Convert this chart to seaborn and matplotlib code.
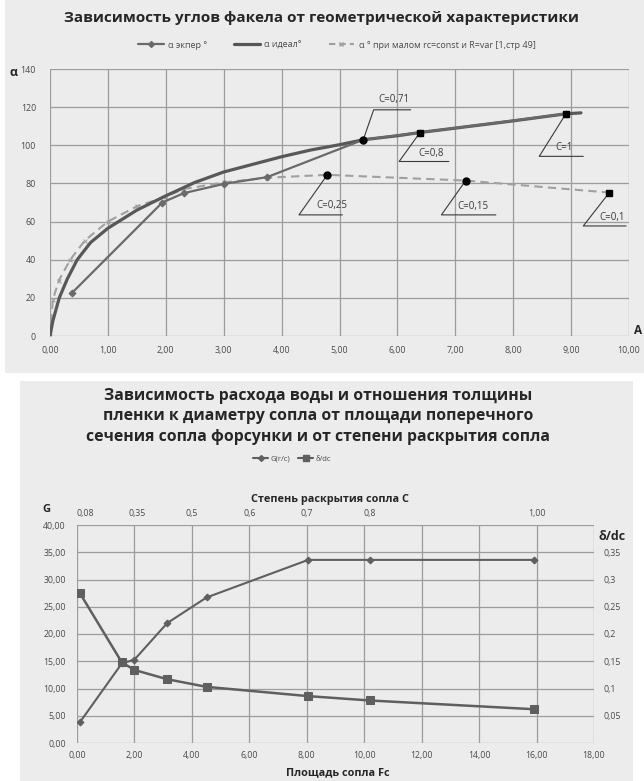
import matplotlib
matplotlib.use("Agg")
import matplotlib.pyplot as plt
import seaborn as sns
from matplotlib.patches import Rectangle
from matplotlib.lines import Line2D
from matplotlib.ticker import FuncFormatter, FixedLocator

# ---------------- data: top chart ----------------
exp_x = [0.38, 1.94, 2.31, 3.01, 3.75, 5.41, 6.39, 8.91]
exp_a = [22.6, 70.0, 74.9, 79.8, 83.3, 102.9, 106.7, 116.5]

ideal_x = [0, 0.05, 0.16, 0.30, 0.47, 0.70, 1.0, 1.5, 2.0, 2.5, 3.0, 3.5, 4.0,
           4.5, 5.0, 5.41, 6.0, 6.39, 7.0, 8.0, 8.91, 9.17]
ideal_a = [0, 8, 20, 30, 40, 49, 56.5, 66, 73.5, 80.5, 86, 90, 94,
           97.5, 100.3, 102.9, 105, 106.7, 109, 112.8, 116.5, 117]

small_x = [0, 0.05, 0.15, 0.35, 0.6, 1.0, 1.5, 2.0, 2.3, 3.0, 3.75, 4.79, 7.18, 9.66]
small_a = [0, 19, 29, 40, 50, 60, 68, 73, 77, 80.5, 83, 84.5, 81.5, 75.2]

c_labels = ["C=0,71", "C=0,8", "C=1", "C=0,25", "C=0,15", "C=0,1"]
c_x = [5.41, 6.39, 8.91, 4.79, 7.18, 9.66]
c_a = [102.9, 106.7, 116.5, 84.5, 81.5, 75.2]

top_xticks = [0, 1, 2, 3, 4, 5, 6, 7, 8, 9, 10]
top_yticks = [0, 20, 40, 60, 80, 100, 120, 140]

# ---------------- data: bottom chart ----------------
fc = [0.10, 1.56, 2.0, 3.14, 4.51, 8.05, 10.2, 15.9]
g_vals = [3.8, 14.6, 15.3, 22.0, 26.7, 33.6, 33.6, 33.6]
d_vals = [0.275, 0.148, 0.134, 0.117, 0.103, 0.086, 0.078, 0.062]

bot_xticks = [0, 2, 4, 6, 8, 10, 12, 14, 16, 18]
bot_yticks = [0, 5, 10, 15, 20, 25, 30, 35, 40]
right_ticks = [0.05, 0.10, 0.15, 0.20, 0.25, 0.30, 0.35]
right_labels = ["0,05", "0,1", "0,15", "0,2", "0,25", "0,3", "0,35"]
c_top_pos = [0.3, 2.1, 4.0, 6.0, 8.0, 10.2, 16.0]
c_top_labels = ["0,08", "0,35", "0,5", "0,6", "0,7", "0,8", "1,00"]

# ---------------- style ----------------
sns.set_style("white")
plt.rcParams['font.family'] = ['Open Sans', 'DejaVu Sans']

W, H = 644, 781
fig = plt.figure(figsize=(W / 100, H / 100), dpi=100)
fig.patch.set_facecolor("white")

PANEL = "#ececec"
GRID = "#9c9c9c"
TXT = "#4a4a4a"
DARK = "#262626"


def fx(px):
    return px / W


def fy(py):
    return 1 - py / H


# panels
fig.patches.append(Rectangle((fx(5), fy(373)), fx(644 - 5), 373 / H,
                             transform=fig.transFigure, facecolor=PANEL,
                             edgecolor="none", zorder=-10))
fig.patches.append(Rectangle((fx(20), fy(781)), fx(633 - 20), (781 - 381) / H,
                             transform=fig.transFigure, facecolor=PANEL,
                             edgecolor="none", zorder=-10))

comma2 = FuncFormatter(lambda v, p: f"{v:.2f}".replace(".", ","))

# ================= top chart =================
ax = fig.add_axes([fx(50), fy(336), fx(629 - 50), (336 - 69) / H])
ax.set_zorder(2)
ax.set_facecolor("none")
ax.set_xlim(0, 10)
ax.set_ylim(0, 140)
ax.xaxis.set_major_locator(FixedLocator(top_xticks))
ax.yaxis.set_major_locator(FixedLocator(top_yticks))
ax.xaxis.set_major_formatter(comma2)
ax.grid(True, color=GRID, lw=0.9)
ax.set_axisbelow(True)
for s in ax.spines.values():
    s.set_visible(False)
ax.tick_params(length=0, labelsize=6.4, colors=TXT)
ax.tick_params(axis="x", pad=7)
ax.tick_params(axis="y", pad=10)

sns.lineplot(x=small_x, y=small_a, ax=ax, color="#a0a0a0", linewidth=1.5,
             linestyle=(0, (4, 2.5)), marker="x", markersize=3,
             markeredgecolor="#a0a0a0", sort=False, estimator=None, legend=False)
sns.lineplot(x=ideal_x, y=ideal_a, ax=ax, color="#585858", linewidth=2.3,
             sort=False, estimator=None, legend=False)
sns.lineplot(x=exp_x, y=exp_a, ax=ax, color="#6a6a6a", linewidth=1.6,
             marker="D", markersize=3.5, markeredgecolor="#6a6a6a",
             sort=False, estimator=None, legend=False)

c_mark = ["o", "s", "s", "o", "o", "s"]
for xx, yy, m in zip(c_x, c_a, c_mark):
    ax.plot([xx], [yy], marker=m, color="black", markersize=5, zorder=5,
            clip_on=False)

# callouts: (elbow x, elbow y, underline end x, text x, text y)
callouts = [
    (5.59, 118.6, 6.23, 5.94, 124.0),
    (6.03, 91.5, 6.89, 6.59, 95.6),
    (8.45, 94.2, 9.21, 8.88, 98.8),
    (4.30, 63.5, 5.05, 4.87, 68.2),
    (6.76, 63.5, 7.70, 7.30, 67.8),
    (9.21, 57.7, 9.95, 9.70, 62.3),
]
for (xx, yy, lab), (ex, ey, ux, tx, ty) in zip(zip(c_x, c_a, c_labels), callouts):
    ax.plot([xx, ex, ux], [yy, ey, ey], color="#3a3a3a", lw=0.8, zorder=4,
            clip_on=False)
    ax.text(tx, ty, lab, ha="center", va="center", fontsize=7, color="#3a3a3a",
            zorder=6)

fig.text(fx(322), fy(18), "Зависимость углов факела от геометрической характеристики",
         ha="center", va="center", fontsize=11, fontweight="bold", color=DARK)
fig.text(fx(14), fy(73), "α", ha="center", va="center", fontsize=9,
         fontweight="bold", color=DARK)
fig.text(fx(638), fy(331), "A", ha="center", va="center", fontsize=8.5,
         fontweight="bold", color=DARK)

h_top = [
    Line2D([], [], color="#6a6a6a", lw=1.6, marker="D", markersize=3),
    Line2D([], [], color="#555555", lw=2.3),
    Line2D([], [], color="#a0a0a0", lw=1.5, linestyle=(0, (3, 2)), marker="x",
           markersize=3),
]
fig.legend(h_top, ["α экпер °", "α идеал°", "α ° при малом rc=const и R=var [1,стр 49]"],
           loc="center", bbox_to_anchor=(fx(337), fy(45)), ncol=3, frameon=False,
           fontsize=6.5, handlelength=2.8, columnspacing=3.0, handletextpad=0.5,
           labelcolor=TXT)

# ================= bottom chart =================
axb = fig.add_axes([fx(77), fy(743), fx(594 - 77), (743 - 525) / H])
axb.set_zorder(2)
axb.set_facecolor("none")
axb.set_xlim(0, 18)
axb.set_ylim(0, 40)
axb.xaxis.set_major_locator(FixedLocator(bot_xticks))
axb.yaxis.set_major_locator(FixedLocator(bot_yticks))
axb.xaxis.set_major_formatter(comma2)
axb.yaxis.set_major_formatter(comma2)
axb.grid(True, color=GRID, lw=0.9)
axb.set_axisbelow(True)
for s in axb.spines.values():
    s.set_visible(False)
axb.tick_params(length=0, labelsize=6.3, colors=TXT)
axb.tick_params(axis="x", pad=6)
axb.tick_params(axis="y", pad=8)

sns.lineplot(x=fc, y=g_vals, ax=axb, color="#5f5f5f", linewidth=1.5,
             marker="D", markersize=3.5, markeredgecolor="#5f5f5f",
             sort=False, estimator=None, legend=False)

axr = axb.twinx()
axr.set_zorder(3)
axr.set_facecolor("none")
axr.set_ylim(0, 0.4)
axr.yaxis.set_major_locator(FixedLocator(right_ticks))
axr.set_yticklabels(right_labels)
for s in axr.spines.values():
    s.set_visible(False)
axr.tick_params(length=0, labelsize=6.3, colors=TXT, pad=7)
sns.lineplot(x=fc, y=d_vals, ax=axr, color="#5f5f5f", linewidth=1.8,
             marker="s", markersize=5.5, markeredgecolor="#5f5f5f",
             sort=False, estimator=None, legend=False)
axr.set_ylabel("")

sec = axb.secondary_xaxis("top")
sec.set_xticks(c_top_pos, c_top_labels)
sec.tick_params(length=0, labelsize=6.3, colors=TXT, pad=5)
for s in sec.spines.values():
    s.set_visible(False)

titles = ["Зависимость расхода воды и отношения толщины",
          "пленки к диаметру сопла от площади поперечного",
          "сечения сопла форсунки и от степени раскрытия сопла"]
for i, t in enumerate(titles):
    fig.text(fx(318), fy(396 + 20.5 * i), t, ha="center", va="center",
             fontsize=11.3, fontweight="bold", color=DARK)

fig.text(fx(330), fy(499), "Степень раскрытия сопла C", ha="center", va="center",
         fontsize=7.8, fontweight="bold", color=DARK)
fig.text(fx(338), fy(773), "Площадь сопла Fc", ha="center", va="center",
         fontsize=7.8, fontweight="bold", color=DARK)
fig.text(fx(46), fy(509), "G", ha="center", va="center", fontsize=8,
         fontweight="bold", color=DARK)
fig.text(fx(612), fy(536), "δ/dc", ha="center", va="center", fontsize=9,
         fontweight="bold", color=DARK)

h_bot = [
    Line2D([], [], color="#5f5f5f", lw=1.5, marker="D", markersize=3),
    Line2D([], [], color="#5f5f5f", lw=1.5, marker="s", markersize=4),
]
fig.legend(h_bot, ["G(r/c)", "δ/dc"], loc="center",
           bbox_to_anchor=(fx(292), fy(459)), ncol=2, frameon=False,
           fontsize=5.5, handlelength=2.0, columnspacing=1.0, handletextpad=0.3,
           labelcolor=TXT)

fig.savefig("out.png", dpi=100)
